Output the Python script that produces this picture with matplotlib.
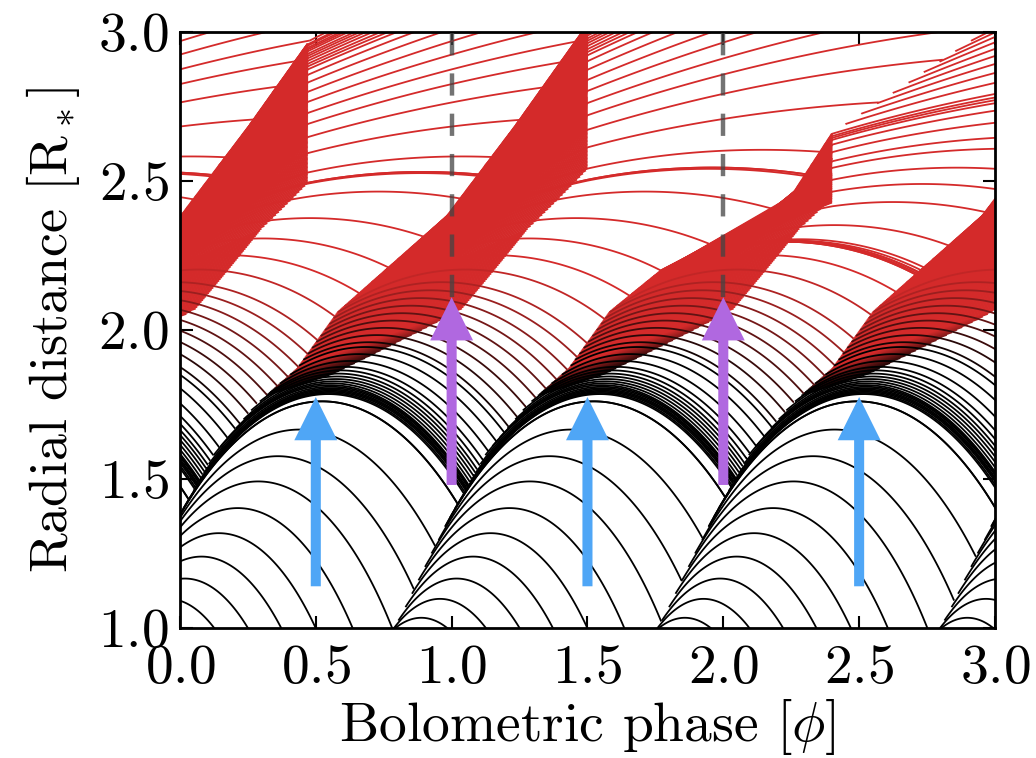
import numpy as np
import matplotlib.pyplot as plt
from matplotlib.collections import LineCollection
from matplotlib.colors import to_rgb

plt.rcParams['font.family'] = 'serif'
plt.rcParams['font.serif'] = ['cmr10']
plt.rcParams['mathtext.fontset'] = 'cm'
plt.rcParams['axes.formatter.use_mathtext'] = True
plt.rcParams['lines.scale_dashes'] = False

# phases where each pulsation shock crosses r ~ 1.35 R*
SHOCK_PHASE = [-3.0, -2.0, -1.0, -0.02, 0.98, 1.95, 2.99]
# phase at which the shocked outer layer of each shock stops (vertical breaks)
SHOCK_CUT = [-1.53, -0.53, 0.47, 1.50, 2.40, 3.45, 4.45]
# front track (phase after SHOCK_PHASE, radius)
FRONT_DT = [-0.40, -0.19, 0.00, 0.15, 0.30, 0.45, 0.60, 1.00, 1.25, 1.50, 1.80, 2.30]
FRONT_R = [0.78, 1.00, 1.35, 1.59, 1.75, 1.87, 2.06, 2.38, 2.68, 3.00, 3.40, 4.20]
# the shock launched at phase 0.98 slows down in the outer layers
FRONT3_DT = [-0.40, -0.19, 0.00, 0.15, 0.30, 0.45, 0.60, 0.79, 1.02, 1.27, 1.42, 1.98, 2.60]
FRONT3_R = [0.78, 1.00, 1.35, 1.59, 1.75, 1.87, 2.06, 2.20, 2.29, 2.45, 2.66, 3.00, 4.20]

# post-shock velocity vs radius [R*/phase]
KICK_R = [0.78, 1.00, 1.20, 1.35, 1.60, 1.80, 1.90, 2.06, 2.20, 2.38, 2.60, 4.20]
KICK_V = [1.15, 1.35, 1.60, 1.70, 1.10, 0.62, 0.50, 0.55, 0.80, 1.00, 1.15, 1.20]
KICK_FRAC = 0.85
# gravity (G/r^2) reduced by radiation pressure further out
G_STAR = 8.0
GAM_R = [1.0, 1.9, 2.1, 2.4, 2.7, 4.5]
GAM_V = [1.0, 1.0, 0.85, 0.45, 0.15, 0.15]
CUT_R, CUT_K = 2.2, 0.6

# radii at which mass shells are picked up by each shock
R_HIT = np.concatenate([np.arange(0.80, 1.34, 0.045), np.arange(1.34, 1.90, 0.03),
                        np.arange(1.90, 2.20, 0.02), np.arange(2.20, 4.2, 0.035)])
# finer shells drawn only inside the compressed layer behind the front
R_BAND = np.arange(1.78, 3.30, 0.004)
BAND_R = [1.78, 1.88, 2.06, 2.20, 2.40, 2.70, 3.30]
BAND_V = [0.30, 0.32, 0.40, 0.55, 0.80, 1.00, 1.10]
BAND_LIFE = [0.25, 0.60, 0.70, 0.90, 1.50, 1.50, 1.50]

# arrows: phase, and bottom / tip radius
BLUE_X = [0.5, 1.5, 2.5]
BLUE_Y = [1.14, 1.775]
PURPLE_X = [1.0, 2.0]
PURPLE_Y = [1.48, 2.11]

tracks = [(FRONT3_DT, FRONT3_R) if c == 0.98 else (FRONT_DT, FRONT_R) for c in SHOCK_PHASE]
nf = len(SHOCK_PHASE)


def fronts(t):
    return np.array([np.interp(t - c, tr[0], tr[1], left=np.nan, right=np.nan)
                     for c, tr in zip(SHOCK_PHASE, tracks)] + [np.nan, np.nan])


def speed(k, rr):
    tdt, tr = np.array(tracks[k][0]), np.array(tracks[k][1])
    return np.interp(rr, 0.5 * (tr[1:] + tr[:-1]), np.diff(tr) / np.diff(tdt))


def hit_time(k, rr):
    return np.interp(rr, tracks[k][1], tracks[k][0]) + SHOCK_PHASE[k]


# ---- ballistic shells, one segment per shell and shock ----
seg_k = np.repeat(np.arange(nf), len(R_HIT))
seg_r0 = np.tile(R_HIT, nf)
seg_t0 = np.array([hit_time(k, rr) for k, rr in zip(seg_k, seg_r0)])
seg_v0 = np.interp(seg_r0, KICK_R, KICK_V)
cap = np.array([KICK_FRAC * speed(k, rr) for k, rr in zip(seg_k, seg_r0)])
outer = seg_r0 > 2.0
seg_v0[outer] = np.minimum(seg_v0[outer], cap[outer])
seg_cut = np.array(SHOCK_CUT)[seg_k]
n = len(seg_r0)

dt = 0.002
all_t = np.arange(-3.6, 3.03, dt)
fmat = np.array([fronts(t) for t in all_t])
r = np.full(n, np.nan)
v = np.zeros(n)
state = np.zeros(n, int)
cutdone = np.zeros(n, bool)
hist = np.full((len(all_t), n), np.nan)
for i, t in enumerate(all_t[:-1]):
    start = (state == 0) & (seg_t0 <= t)
    r[start] = seg_r0[start]
    v[start] = seg_v0[start]
    state[start] = 1
    act = state == 1
    hist[i, act] = r[act]
    rr = np.where(act, r, 2.0)
    g = G_STAR / rr**2 * np.interp(rr, GAM_R, GAM_V)
    v_new = v - g * dt
    r_new = r + v_new * dt
    m = act & ~cutdone & (seg_cut <= t + dt)
    if m.any():
        cutdone |= m
        m &= r_new > CUT_R
        v_new[m] = np.minimum(v_new[m], CUT_K * (r_new[m] - CUT_R))
    fp, fn = fmat[i][seg_k + 1], fmat[i + 1][seg_k + 1]
    f2 = fmat[i + 1][seg_k + 2]
    with np.errstate(invalid='ignore'):
        landed = act & (r > fp) & (r_new <= fn)
        end = landed | (act & ((r_new < 0.75) | (r_new > 4.5) | (r_new < f2)))
    hist[i + 1, landed] = fn[landed]
    state[end] = 2
    r, v = r_new, v_new

# a shell never sits below the next shock once that shock has passed it
for j in range(n):
    nxt = fmat[:, seg_k[j] + 1]
    with np.errstate(invalid='ignore'):
        below = np.nonzero(hist[:, j] < nxt - 0.01)[0]
    if len(below):
        hist[below[0]:, j] = np.nan

keep = all_t >= -0.05
times, hist = all_t[keep], hist[keep]

black, red = np.array(to_rgb('black')), np.array(to_rgb('#d42a2a'))


def blend(a):
    return tuple(black * (1 - a) + red * a)


fig = plt.figure(figsize=(10.36, 7.58), dpi=100)
ax = fig.add_axes([0.1737, 0.1715, 0.7867, 0.7863])

# ---- compressed layer: straight tracks from the front until the break ----
bsegs, bcols = [], []
for k in range(nf):
    tb = hit_time(k, R_BAND)
    vb = np.minimum(np.interp(R_BAND, BAND_R, BAND_V), 0.9 * speed(k, R_BAND))
    te = np.minimum(SHOCK_CUT[k], tb + np.interp(R_BAND, BAND_R, BAND_LIFE))
    for r0, t0, v0, t1 in zip(R_BAND, tb, vb, te):
        if t1 <= t0 or t1 < 0 or t0 > 3:
            continue
        bsegs.append([(t0, r0), (t1, r0 + v0 * (t1 - t0))])
        bcols.append(blend(np.clip((r0 - 1.78) / 0.10, 0, 1)))
ax.add_collection(LineCollection(bsegs, colors=bcols, linewidths=1.3, zorder=2))

segs, scol = [], []
for j in range(n):
    ok = ~np.isnan(hist[:, j])
    if ok.sum() > 1:
        segs.append(np.column_stack([times[ok], hist[ok, j]]))
        scol.append(blend(np.clip((seg_r0[j] - 1.88) / 0.22, 0, 1)))
ax.add_collection(LineCollection(segs, colors=scol, linewidths=1.3, zorder=2))

for x in PURPLE_X:
    ax.plot([x, x], [PURPLE_Y[1], 3.0], color='#444444', alpha=0.75, lw=3.2,
            dashes=(16, 13), zorder=3)
for x in BLUE_X:
    ax.arrow(x, BLUE_Y[0], 0, BLUE_Y[1] - BLUE_Y[0], width=0.037, head_width=0.158,
             head_length=0.145, length_includes_head=True, color='#4fa6f6', lw=0, zorder=5)
for x in PURPLE_X:
    ax.arrow(x, PURPLE_Y[0], 0, PURPLE_Y[1] - PURPLE_Y[0], width=0.037, head_width=0.158,
             head_length=0.145, length_includes_head=True, color='#b068e0', lw=0, zorder=5)

ax.set_xlim(0, 3)
ax.set_ylim(1, 3)
ax.set_xticks([0, 0.5, 1.0, 1.5, 2.0, 2.5, 3.0])
ax.set_yticks([1.0, 1.5, 2.0, 2.5, 3.0])
ax.tick_params(direction='in', top=True, right=True, length=9, width=1.5,
               labelsize=40)
ax.tick_params(axis='x', pad=12)
ax.tick_params(axis='y', pad=8)
for s in ax.spines.values():
    s.set_linewidth(2)
ax.set_xlabel(r'Bolometric phase [$\phi$]', fontsize=40, labelpad=2)
ax.set_ylabel(r'Radial distance [R$_*$]', fontsize=39, labelpad=12)

fig.savefig('out.png', dpi=100)
